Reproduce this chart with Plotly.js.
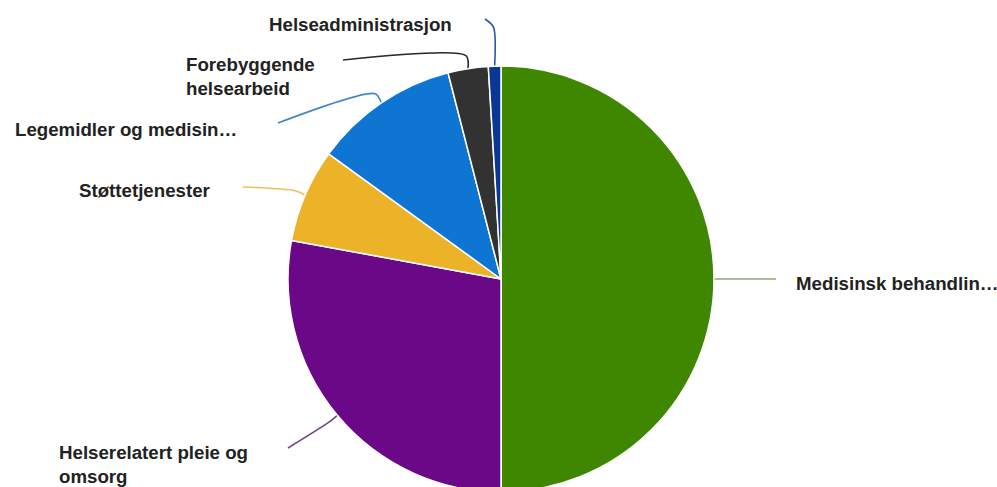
<!DOCTYPE html>
<html>
<head>
<meta charset="utf-8">
<script src="https://cdn.plot.ly/plotly-3.0.1.min.js"></script>
<style>
html, body { margin:0; padding:0; overflow:hidden; background:#fff; }
#chart { width:997px; height:520px; }
</style>
</head>
<body>
<div id="chart"></div>
<script>
// ---- data ----
const categories = [
  "Medisinsk behandling",
  "Helserelatert pleie og omsorg",
  "Støttetjenester",
  "Legemidler og medisinsk forbruksmateriell",
  "Forebyggende helsearbeid",
  "Helseadministrasjon"
];
const shares = [50.0, 27.9, 7.1, 11.0, 3.05, 0.95];
const displayLabels = [
  "Medisinsk behandlin…",
  "Helserelatert pleie og<br>omsorg",
  "Støttetjenester",
  "Legemidler og medisin…",
  "Forebyggende<br>helsearbeid",
  "Helseadministrasjon"
];
const sliceColors = ["#3f8700", "#6a0887", "#ecb228", "#0f75d2", "#323232", "#0a3796"];
const lineColors  = ["#8fa872", "#6e4a80", "#eac15e", "#3f86c4", "#2a2a2a", "#2b58a6"];

// ---- layout constants (pixels) ----
const W = 997, H = 520;
const CX = 501, CY = 279, R = 213;
const labelAnchor = [[795, 283], [58, 464], [78, 190.5], [14, 129], [185, 76.5], [268, 24.3]];
const lineEnd     = [[776, 279], [288, 448], [243, 187], [278, 123], [343, 60], [485, 19]];
const bendOut     = [10, 10, 11, 11, 13, 39];

const total = shares.reduce((a, b) => a + b, 0);
let cum = 0;
const traces = [];
traces.push({
  type: 'pie',
  values: shares,
  labels: categories,
  sort: false,
  direction: 'clockwise',
  rotation: 0,
  textinfo: 'none',
  hoverinfo: 'label+percent',
  marker: { colors: sliceColors, line: { color: '#ffffff', width: 1.5 } },
  domain: { x: [(CX - R) / W, (CX + R) / W], y: [(H - CY - R) / H, (H - CY + R) / H] },
  showlegend: false
});

const annotations = [];
shares.forEach((v, i) => {
  const mid = (cum + v / 2) / total * 2 * Math.PI;
  cum += v;
  const dx = Math.sin(mid), dy = -Math.cos(mid);
  const p0 = [CX + R * dx, CY + R * dy];
  const c = [CX + (R + bendOut[i]) * dx, CY + (R + bendOut[i]) * dy];
  const e = lineEnd[i];
  traces.push({
    type: 'scatter', mode: 'lines', xaxis: 'x', yaxis: 'y',
    x: [p0[0], c[0], e[0]], y: [p0[1], c[1], e[1]],
    line: { color: lineColors[i], width: 1.6, shape: 'spline', smoothing: 0.8 },
    hoverinfo: 'skip', showlegend: false
  });
  annotations.push({
    xref: 'x', yref: 'y', x: labelAnchor[i][0], y: labelAnchor[i][1],
    xanchor: 'left', yanchor: 'middle', align: 'left',
    text: displayLabels[i], showarrow: false, borderpad: 0,
    font: { family: '"Liberation Sans", Arial, sans-serif', size: 18.7, color: '#222222', weight: 'bold' }
  });
});

const layout = {
  width: W, height: H,
  margin: { l: 0, r: 0, t: 0, b: 0 },
  paper_bgcolor: '#ffffff', plot_bgcolor: 'rgba(0,0,0,0)',
  xaxis: { range: [0, W], visible: false, fixedrange: true, domain: [0, 1] },
  yaxis: { range: [H, 0], visible: false, fixedrange: true, domain: [0, 1] },
  showlegend: false,
  annotations: annotations
};

Plotly.newPlot('chart', traces, layout, { displayModeBar: false, responsive: false });
</script>
</body>
</html>
